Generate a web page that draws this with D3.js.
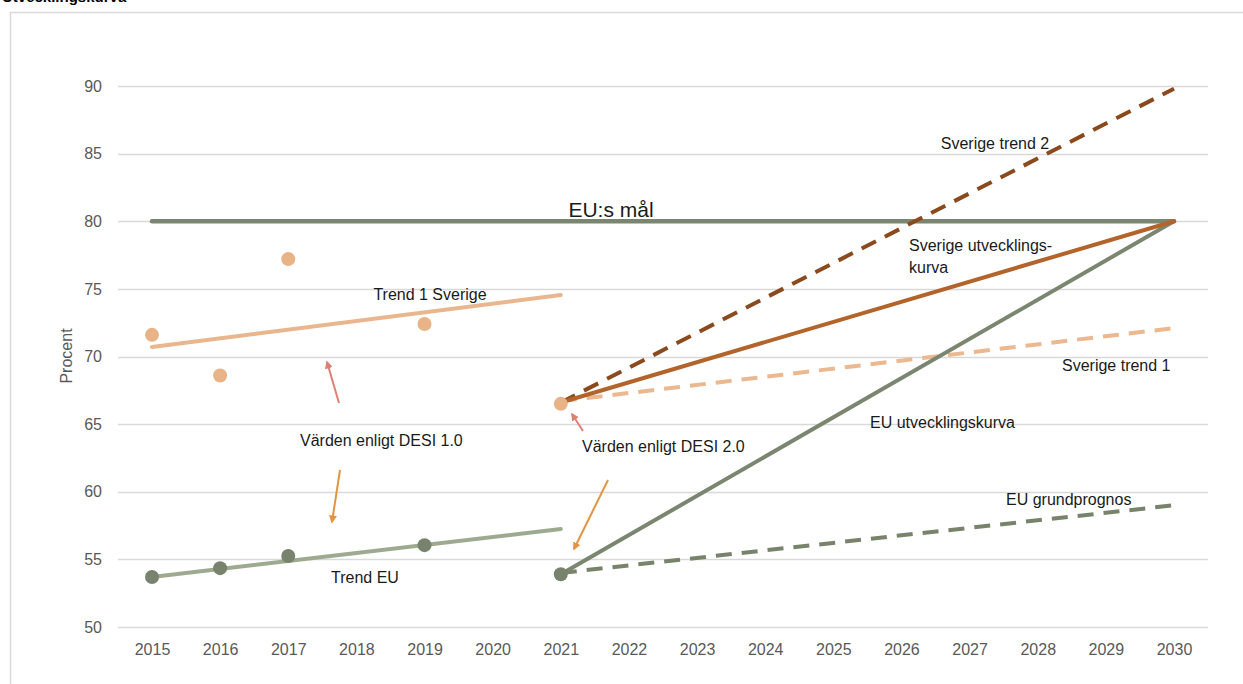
<!DOCTYPE html>
<html><head><meta charset="utf-8">
<script src="https://cdn.jsdelivr.net/npm/d3@7"></script>
<style>
body{margin:0;background:#fff;}
svg{display:block;font-family:"Liberation Sans",Arial,sans-serif;}
</style></head>
<body><svg id="c" width="1243" height="684"></svg>
<script>
const years = ["2015","2016","2017","2018","2019","2020","2021","2022","2023","2024","2025","2026","2027","2028","2029","2030"];
const yTicks = [50,55,60,65,70,75,80,85,90];

// Sweden observed (DESI 1.0 and DESI 2.0)
const sweYears = ["2015","2016","2017","2019","2021"];
const sweValues = [71.6, 68.6, 77.2, 72.4, 66.5];
// EU observed
const euYears = ["2015","2016","2017","2019","2021"];
const euValues = [53.7, 54.35, 55.25, 56.05, 53.9];

const goalYears = ["2015","2030"], goalValues = [80, 80];
const trendSweYears = ["2015","2021"], trendSweValues = [70.7, 74.55];
const trendEuYears = ["2015","2021"], trendEuValues = [53.7, 57.25];
const euUtvYears = ["2021","2030"], euUtvValues = [53.9, 80];
const euGrundYears = ["2021","2030"], euGrundValues = [54.0, 59.0];
const sweUtvYears = ["2021","2030"], sweUtvValues = [66.6, 80];
const sweTrend2Years = ["2021","2030"], sweTrend2Values = [66.6, 89.8];
const sweTrend1Years = ["2021","2030"], sweTrend1Values = [66.7, 72.1];

const svg = d3.select("#c");
const x = d3.scalePoint().domain(years).range([152, 1174]);
const y = d3.scaleLinear().domain([50, 90]).range([627, 86]);

// cropped title above frame
svg.append("text").attr("x", 2).attr("y", 2).attr("font-weight", "bold").attr("font-size", 15)
  .attr("fill", "#000").text("Utvecklingskurva");

// frame
svg.append("rect").attr("x", 10.5).attr("y", 12.5).attr("width", 1240).attr("height", 680)
  .attr("fill", "#fff").attr("stroke", "#d9d9d9").attr("stroke-width", 1.5);

// grid
svg.append("g").selectAll("line").data(yTicks).join("line")
  .attr("x1", 118).attr("x2", 1208)
  .attr("y1", d => Math.round(y(d)) + 0.5).attr("y2", d => Math.round(y(d)) + 0.5)
  .attr("stroke", "#d9d9d9").attr("stroke-width", 1.3);

// axes
const yAxis = d3.axisLeft(y).tickValues(yTicks).tickSize(0).tickPadding(0);
const gy = svg.append("g").attr("transform", "translate(102,0)").call(yAxis);
gy.select(".domain").remove();
gy.selectAll("text").attr("font-size", 16).attr("fill", "#595959").attr("font-family", "Liberation Sans, Arial");

const xAxis = d3.axisBottom(x).tickSize(0).tickPadding(0);
const gx = svg.append("g").attr("transform", "translate(0,644)").call(xAxis);
gx.select(".domain").remove();
gx.selectAll("text").attr("font-size", 16).attr("fill", "#595959").attr("font-family", "Liberation Sans, Arial");

svg.append("text").attr("transform", "translate(72,356) rotate(-90)").attr("text-anchor", "middle")
  .attr("font-size", 16).attr("fill", "#595959").text("Procent");

const line = d3.line().x(d => x(d[0])).y(d => y(d[1]));
function drawLine(ys, vs, color, w, dash) {
  const p = svg.append("path").datum(ys.map((k, i) => [k, vs[i]]))
    .attr("d", line).attr("fill", "none").attr("stroke", color).attr("stroke-width", w)
    .attr("stroke-linecap", dash ? "butt" : "round");
  if (dash) p.attr("stroke-dasharray", dash);
}

drawLine(trendSweYears, trendSweValues, "#e9b68d", 4);
drawLine(trendEuYears, trendEuValues, "#9daa90", 4);
drawLine(goalYears, goalValues, "#7b8670", 4.5);
drawLine(euGrundYears, euGrundValues, "#78836c", 4, "16,10");
drawLine(sweTrend1Years, sweTrend1Values, "#ebb88f", 4, "16,10");
drawLine(sweTrend2Years, sweTrend2Values, "#8a4a1d", 4, "16,10");
drawLine(euUtvYears, euUtvValues, "#7b8670", 4);
drawLine(sweUtvYears, sweUtvValues, "#b3642b", 4);

svg.append("g").selectAll("circle").data(sweYears.map((k, i) => [k, sweValues[i]])).join("circle")
  .attr("cx", d => x(d[0])).attr("cy", d => y(d[1])).attr("r", 7).attr("fill", "#e8b386");
svg.append("g").selectAll("circle").data(euYears.map((k, i) => [k, euValues[i]])).join("circle")
  .attr("cx", d => x(d[0])).attr("cy", d => y(d[1])).attr("r", 7).attr("fill", "#78836d");

// arrows
const defs = svg.append("defs");
function marker(id, color) {
  defs.append("marker").attr("id", id).attr("viewBox", "0 0 10 10").attr("refX", 8).attr("refY", 5)
    .attr("markerWidth", 4).attr("markerHeight", 4).attr("orient", "auto")
    .append("path").attr("d", "M0,0 L10,5 L0,10 z").attr("fill", color);
}
marker("mr", "#de8175");
marker("mo", "#e39440");
const arrows = [
  [339, 403, 327, 362, "#de8175", "mr"],
  [340, 470, 332, 522, "#e39440", "mo"],
  [583, 431, 572, 414, "#de8175", "mr"],
  [608, 480, 574, 549, "#e39440", "mo"]
];
arrows.forEach(a => svg.append("line").attr("x1", a[0]).attr("y1", a[1]).attr("x2", a[2]).attr("y2", a[3])
  .attr("stroke", a[4]).attr("stroke-width", 2).attr("marker-end", `url(#${a[5]})`));

// labels
const labels = [
  ["EU:s mål", 611, 217, 21, "middle"],
  ["Trend 1 Sverige", 430, 300, 16, "middle"],
  ["Sverige trend 2", 995, 149, 16, "middle"],
  ["Sverige utvecklings-", 909, 251, 16, "start"],
  ["kurva", 909, 273, 16, "start"],
  ["Sverige trend 1", 1062, 371, 16, "start"],
  ["EU utvecklingskurva", 870, 428, 16, "start"],
  ["EU grundprognos", 1006, 505, 16, "start"],
  ["Trend EU", 331, 583, 16, "start"],
  ["Värden enligt DESI 1.0", 300, 446, 16, "start"],
  ["Värden enligt DESI 2.0", 582, 452, 16, "start"]
];
labels.forEach(l => svg.append("text").attr("x", l[1]).attr("y", l[2]).attr("font-size", l[3])
  .attr("text-anchor", l[4]).attr("fill", "#1a1a1a").text(l[0]));
</script></body></html>
